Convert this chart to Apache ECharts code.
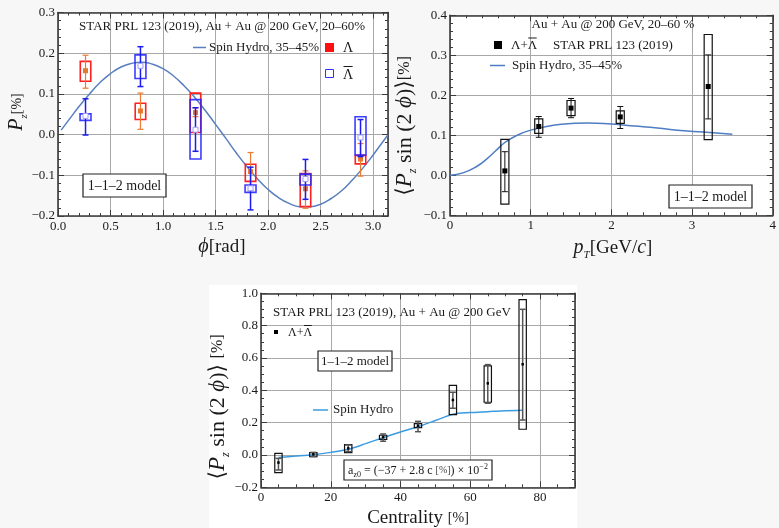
<!DOCTYPE html>
<html><head><meta charset="utf-8">
<script src="https://cdn.jsdelivr.net/npm/echarts@6/dist/echarts.min.js"></script>
<style>html,body{margin:0;padding:0;background:#f7f7f7}#c{width:779px;height:528px}</style>
</head><body><div id="c"></div>
<script>
// ---------- Panel 1: Pz vs phi ----------
const phiBins = [0.262, 0.785, 1.309, 1.833, 2.356, 2.880];
const lamPz = [0.157, 0.058, 0.054, -0.091, -0.133, -0.060];
const lamStatLo = [0.114, 0.013, 0.044, -0.138, -0.181, -0.102];
const lamStatHi = [0.195, 0.102, 0.066, -0.044, -0.089, -0.022];
const lamSysLo = [0.131, 0.037, 0.005, -0.115, -0.177, -0.072];
const lamSysHi = [0.180, 0.077, 0.102, -0.073, -0.096, -0.051];
const abarPz = [0.046, 0.169, 0.012, -0.132, -0.109, -0.007];
const abarStatLo = [-0.001, 0.118, -0.041, -0.185, -0.159, -0.054];
const abarStatHi = [0.088, 0.216, 0.066, -0.080, -0.061, 0.037];
const abarSysLo = [0.035, 0.138, -0.060, -0.142, -0.124, -0.050];
const abarSysHi = [0.051, 0.196, 0.086, -0.124, -0.097, 0.044];
const hydroPhi = [0.03, 0.1, 0.2, 0.3, 0.4, 0.5, 0.6, 0.7, 0.8, 0.9, 1.0, 1.1, 1.2, 1.3, 1.4, 1.5, 1.6, 1.7, 1.8, 1.9, 2.0, 2.1, 2.2, 2.3, 2.4, 2.5, 2.6, 2.7, 2.8, 2.9, 3.0, 3.1, 3.14];
const hydroPz = [0.011, 0.035, 0.069, 0.100, 0.128, 0.150, 0.166, 0.175, 0.178, 0.173, 0.162, 0.144, 0.120, 0.092, 0.060, 0.025, -0.010, -0.046, -0.079, -0.109, -0.135, -0.155, -0.169, -0.177, -0.177, -0.171, -0.157, -0.138, -0.112, -0.083, -0.050, -0.015, -0.001];

// ---------- Panel 2: vs pT ----------
const ptBins = [0.68, 1.10, 1.50, 2.11, 3.20];
const ptVal = [0.011, 0.122, 0.168, 0.146, 0.222];
const ptStatLo = [-0.041, 0.095, 0.144, 0.117, 0.141];
const ptStatHi = [0.059, 0.147, 0.192, 0.172, 0.301];
const ptSysLo = [-0.072, 0.105, 0.149, 0.130, 0.089];
const ptSysHi = [0.090, 0.141, 0.187, 0.161, 0.352];
const hydroPt = [0, 0.16, 0.33, 0.45, 0.57, 0.68, 0.82, 1.0, 1.3, 1.55, 1.71, 2.0, 2.29, 2.57, 2.86, 3.14, 3.5];
const hydroPtVal = [0, 0.006, 0.022, 0.040, 0.062, 0.082, 0.099, 0.113, 0.126, 0.130, 0.131, 0.128, 0.123, 0.118, 0.112, 0.108, 0.1025];

// ---------- Panel 3: vs centrality ----------
const centBins = [5, 15, 25, 35, 45, 55, 65, 75];
const centVal = [-0.047, 0.004, 0.041, 0.111, 0.181, 0.340, 0.443, 0.561];
const centStatLo = [-0.093, -0.010, 0.021, 0.085, 0.144, 0.289, 0.320, 0.216];
const centStatHi = [-0.021, 0.016, 0.062, 0.130, 0.208, 0.388, 0.559, 0.901];
const centSysLo = [-0.109, -0.010, 0.014, 0.097, 0.169, 0.249, 0.326, 0.159];
const centSysHi = [0.010, 0.014, 0.064, 0.122, 0.194, 0.431, 0.551, 0.961];
const hydroCent = [5, 10, 15, 20, 25, 30, 35, 40, 45, 50, 55, 60, 65, 70, 75];
const hydroCentVal = [-0.015, -0.007, 0.002, 0.016, 0.035, 0.070, 0.107, 0.142, 0.175, 0.213, 0.252, 0.262, 0.268, 0.274, 0.277];

// tick labels
const xTicks1 = ['0.0','0.5','1.0','1.5','2.0','2.5','3.0'];

const FONT = '"Liberation Serif", "DejaVu Serif", serif';
const FRAME = '#3c3c3c';
const mctx = document.createElement('canvas').getContext('2d');
function measure(t, size) { mctx.font = size + 'px ' + FONT; return mctx.measureText(t).width; }

function rows(x, v, sl, sh, bl, bh) { return x.map((xx, i) => [xx, v[i], sl[i], sh[i], bl[i], bh[i]]); }
function pairs(x, y) { return x.map((xx, i) => [xx, y[i]]); }
function fmtNum(d) { return v => (v < -1e-9 ? '\u2212' : '') + Math.abs(v).toFixed(d); }

function errRender(cfg) {
  return function (params, api) {
    const x = api.value(0), y = api.value(1);
    const a = api.coord([x - cfg.hw, api.value(5)]);
    const b = api.coord([x + cfg.hw, api.value(4)]);
    const c = api.coord([x, y]);
    const s1 = api.coord([x, api.value(2)]);
    const s2 = api.coord([x, api.value(3)]);
    const cap = cfg.cap, m = cfg.ms;
    const es = { stroke: cfg.err, lineWidth: cfg.errW };
    return { type: 'group', children: [
      { type: 'rect', shape: { x: a[0], y: a[1], width: b[0] - a[0], height: b[1] - a[1] }, style: { fill: 'none', stroke: cfg.box, lineWidth: cfg.boxW, opacity: cfg.boxOp || 1 } },
      { type: 'line', shape: { x1: s1[0], y1: s1[1], x2: s2[0], y2: s2[1] }, style: es },
      { type: 'line', shape: { x1: s1[0] - cap, y1: s1[1], x2: s1[0] + cap, y2: s1[1] }, style: es },
      { type: 'line', shape: { x1: s2[0] - cap, y1: s2[1], x2: s2[0] + cap, y2: s2[1] }, style: es },
      { type: 'rect', shape: { x: c[0] - m / 2, y: c[1] - m / 2, width: m, height: m }, style: cfg.filled ? { fill: cfg.mk } : { fill: '#fff', stroke: cfg.mk, lineWidth: 1 } }
    ] };
  };
}

function makeAxes(gi, o, xAxes, yAxes) {
  const line = { show: true, onZero: false, lineStyle: { color: FRAME, width: 1.6 } };
  const tick = { show: true, inside: true, length: 6, lineStyle: { color: FRAME, width: 1 } };
  const lab = { fontFamily: FONT, fontSize: 13, color: '#1a1a1a' };
  const split = { show: true, lineStyle: { color: '#a8a8a8', width: 1 } };
  const xb = { gridIndex: gi, type: 'value', min: o.xmin, max: o.xmax, interval: o.xint, axisLine: line, axisTick: tick,
    minorTick: { show: true, splitNumber: o.xminor, length: 3, lineStyle: { color: FRAME } } };
  const yb = { gridIndex: gi, type: 'value', min: o.ymin, max: o.ymax, interval: o.yint, axisLine: line, axisTick: tick,
    minorTick: { show: true, splitNumber: o.yminor, length: 3, lineStyle: { color: FRAME } } };
  xAxes.push(Object.assign({}, xb, { position: 'bottom', splitLine: split,
    axisLabel: Object.assign({ margin: 4, formatter: o.xfmt, showMaxLabel: o.xShowMax, showMinLabel: true }, lab) }));
  xAxes.push(Object.assign({}, xb, { position: 'top', splitLine: { show: false }, axisLabel: { show: false } }));
  yAxes.push(Object.assign({}, yb, { position: 'left', splitLine: split,
    axisLabel: Object.assign({ margin: 3, formatter: o.yfmt, showMaxLabel: true, showMinLabel: true }, lab) }));
  yAxes.push(Object.assign({}, yb, { position: 'right', splitLine: { show: false }, axisLabel: { show: false } }));
}

const xAxes = [], yAxes = [];
makeAxes(0, { xmin: 0, xmax: 3.1416, xint: 0.5, xminor: 5, ymin: -0.2, ymax: 0.3, yint: 0.1, yminor: 5,
  xfmt: v => { const i = Math.round(v / 0.5); return Math.abs(v - i * 0.5) < 1e-6 ? xTicks1[i] : ''; }, yfmt: fmtNum(1), xShowMax: false }, xAxes, yAxes);
makeAxes(1, { xmin: 0, xmax: 4, xint: 1, xminor: 5, ymin: -0.1, ymax: 0.4, yint: 0.1, yminor: 5,
  xfmt: v => String(Math.round(v)), yfmt: fmtNum(1), xShowMax: true }, xAxes, yAxes);
makeAxes(2, { xmin: 0, xmax: 90, xint: 20, xminor: 4, ymin: -0.2, ymax: 1.0, yint: 0.2, yminor: 4,
  xfmt: v => String(Math.round(v)), yfmt: fmtNum(1), xShowMax: false }, xAxes, yAxes);

const series = [
  { type: 'line', xAxisIndex: 0, yAxisIndex: 0, data: pairs(hydroPhi, hydroPz), smooth: true, showSymbol: false,
    lineStyle: { color: '#5a7fbe', width: 1.5 }, z: 3 },
  { type: 'custom', xAxisIndex: 0, yAxisIndex: 0, data: rows(phiBins, lamPz, lamStatLo, lamStatHi, lamSysLo, lamSysHi),
    encode: { x: 0, y: [1, 2, 3, 4, 5] }, z: 4,
    renderItem: errRender({ hw: 0.05, cap: 3, ms: 5, box: '#ff2020', boxW: 1.6, err: '#ec7a30', errW: 1.2, mk: '#e8772e', filled: true }) },
  { type: 'custom', xAxisIndex: 0, yAxisIndex: 0, data: rows(phiBins, abarPz, abarStatLo, abarStatHi, abarSysLo, abarSysHi),
    encode: { x: 0, y: [1, 2, 3, 4, 5] }, z: 5,
    renderItem: errRender({ hw: 0.052, cap: 3, ms: 5, box: '#2828ff', boxW: 1.6, boxOp: 0.9, err: '#1c1cf0', errW: 1.5, mk: '#9a9aff', filled: false }) },
  { type: 'line', xAxisIndex: 2, yAxisIndex: 2, data: pairs(hydroPt, hydroPtVal), smooth: true, showSymbol: false,
    lineStyle: { color: '#4f7dc4', width: 1.5 }, z: 3 },
  { type: 'custom', xAxisIndex: 2, yAxisIndex: 2, data: rows(ptBins, ptVal, ptStatLo, ptStatHi, ptSysLo, ptSysHi),
    encode: { x: 0, y: [1, 2, 3, 4, 5] }, z: 4,
    renderItem: errRender({ hw: 0.05, cap: 3, ms: 5, box: '#111', boxW: 1.2, err: '#111', errW: 1, mk: '#000', filled: true }) },
  { type: 'line', xAxisIndex: 4, yAxisIndex: 4, data: pairs(hydroCent, hydroCentVal), smooth: 0.3, showSymbol: false,
    lineStyle: { color: '#3a9be0', width: 1.5 }, z: 3 },
  { type: 'custom', xAxisIndex: 4, yAxisIndex: 4, data: rows(centBins, centVal, centStatLo, centStatHi, centSysLo, centSysHi),
    encode: { x: 0, y: [1, 2, 3, 4, 5] }, z: 4,
    renderItem: errRender({ hw: 1.05, cap: 3, ms: 2.5, box: '#111', boxW: 1.2, err: '#555', errW: 1.5, mk: '#000', filled: true }) }
];

function txt(x, y, text, size, align, extra) {
  return Object.assign({ type: 'text', x: x, y: y, z: 100,
    style: { text: text, fontFamily: FONT, fontSize: size, fill: '#1a1a1a', align: align || 'left', verticalAlign: 'middle' } }, extra || {});
}
// text with an overline on the Lambda that follows `prefix`
function barredText(x, y, prefix, rest, size) {
  const x1 = x + measure(prefix, size);
  const w = measure('\u039b', size);
  return [
    txt(x, y, prefix + '\u039b' + rest, size),
    { type: 'line', z: 100, shape: { x1: x1 + 0.5, y1: y - size * 0.5 - 1.5, x2: x1 + w - 0.5, y2: y - size * 0.5 - 1.5 }, style: { stroke: '#1a1a1a', lineWidth: 1 } }
  ];
}
function richTitle(x, y, text, rich, rot) {
  return { type: 'text', x: x, y: y, z: 100, rotation: rot || 0,
    style: { text: text, rich: rich, align: 'center', verticalAlign: 'middle' } };
}
function boxedText(x, y, w, h, text, size) {
  return [
    { type: 'rect', z: 99, shape: { x: x, y: y, width: w, height: h }, style: { fill: '#fff', stroke: '#222', lineWidth: 1.2 } },
    txt(x + w / 2, y + h / 2 + 0.5, text, size, 'center')
  ];
}
const R = (s, o) => Object.assign({ fontFamily: FONT, fontSize: s, fill: '#1a1a1a', lineHeight: 26, verticalAlign: 'middle' }, o || {});
const titleRich = {
  n: R(19), s: R(14), i: R(20, { fontStyle: 'italic' }),
  sub: R(11, { fontStyle: 'italic', verticalAlign: 'bottom', lineHeight: 24 })
};
const bigRich = {
  n: R(22), s: R(16), i: R(23, { fontStyle: 'italic' }),
  sub: R(12, { fontStyle: 'italic', verticalAlign: 'bottom', lineHeight: 27 })
};

const graphics = [
  { type: 'rect', z: -100, shape: { x: 209, y: 285, width: 368, height: 243 }, style: { fill: '#ffffff' } },
  // panel 1 texts
  txt(222, 27, 'STAR PRL 123 (2019), Au + Au @ 200 GeV, 20\u201360%', 13, 'center'),
  { type: 'line', z: 100, shape: { x1: 193, y1: 47.5, x2: 206, y2: 47.5 }, style: { stroke: '#5a7fbe', lineWidth: 1.5 } },
  txt(209, 48, 'Spin Hydro, 35\u201345%', 13),
  { type: 'rect', z: 100, shape: { x: 325, y: 43, width: 9, height: 9 }, style: { fill: '#ff1010' } },
  txt(343, 48, '\u039b', 14),
  { type: 'rect', z: 100, shape: { x: 325.5, y: 69.5, width: 8, height: 8 }, style: { fill: 'none', stroke: '#3030ff', lineWidth: 1 } },
  ...barredText(343, 75, '', '', 14),
  ...boxedText(83, 174, 83, 23, '1\u20131\u20132 model', 14),
  richTitle(17, 112, '{i|P}{sub|z}{s|[%]}', titleRich, Math.PI / 2),
  richTitle(222, 247, '{i|\u03d5}{n|[rad]}', titleRich),
  // panel 2 texts
  txt(613, 25, 'Au + Au @ 200 GeV, 20\u201360 %', 13, 'center'),
  { type: 'rect', z: 100, shape: { x: 494, y: 41, width: 8, height: 8 }, style: { fill: '#000' } },
  ...barredText(511, 46, '\u039b+', '', 13),
  txt(553, 46, 'STAR PRL 123 (2019)', 13),
  { type: 'line', z: 100, shape: { x1: 490, y1: 65.5, x2: 505, y2: 65.5 }, style: { stroke: '#4f7dc4', lineWidth: 1.5 } },
  txt(512, 66, 'Spin Hydro, 35\u201345%', 13),
  ...boxedText(669, 185, 83, 23, '1\u20131\u20132 model', 14),
  richTitle(405, 126, '{n|\u27e8}{i|P}{sub|z}{n| sin (2 }{i|\u03d5}{n|)\u27e9}{s|[%]}', bigRich, Math.PI / 2),
  richTitle(613, 248, '{i|p}{sub|T}{n|[GeV/}{i|c}{n|]}', titleRich),
  // panel 3 texts
  txt(273, 313, 'STAR PRL 123 (2019), Au + Au @ 200 GeV', 13),
  { type: 'rect', z: 100, shape: { x: 274, y: 330, width: 4, height: 4 }, style: { fill: '#000' } },
  ...barredText(288, 333, '\u039b+', '', 12),
  ...boxedText(318, 351, 74, 20, '1\u20131\u20132 model', 13),
  { type: 'line', z: 100, shape: { x1: 313, y1: 410, x2: 328, y2: 410 }, style: { stroke: '#3a9be0', lineWidth: 1.5 } },
  txt(333, 410, 'Spin Hydro', 13),
  { type: 'rect', z: 99, shape: { x: 344, y: 460, width: 148, height: 20 }, style: { fill: '#fff', stroke: '#222', lineWidth: 1.2 } },
  { type: 'text', x: 418, y: 470.5, z: 100, style: { text: '{n|a}{sb|z0}{n| = (\u221237 + 2.8 c }{p|[%]}{n|) \u00d7 10}{sp|\u22122}', align: 'center', verticalAlign: 'middle',
    rich: { n: R(12, { lineHeight: 16 }), p: R(10, { lineHeight: 16, fill: '#444' }), sb: R(8, { lineHeight: 16, verticalAlign: 'bottom' }), sp: R(8, { lineHeight: 16, verticalAlign: 'top' }) } } },
  richTitle(218, 407, '{n|\u27e8}{i|P}{sub|z}{n| sin (2 }{i|\u03d5}{n|)\u27e9 }{s|[%]}', bigRich, Math.PI / 2),
  richTitle(418, 518, '{n|Centrality }{s|[%]}', titleRich)
];

const option = {
  backgroundColor: '#f7f7f7',
  animation: false,
  grid: [
    { left: 58, top: 12.5, width: 330, height: 203.5, show: true, backgroundColor: '#fff', borderWidth: 0 },
    { left: 450, top: 15.3, width: 326.7, height: 200, show: true, backgroundColor: '#fff', borderWidth: 0 },
    { left: 261, top: 293.3, width: 314, height: 194, show: true, backgroundColor: '#fff', borderWidth: 0 }
  ],
  xAxis: xAxes,
  yAxis: yAxes,
  series: series,
  graphic: { elements: graphics }
};
const chart = echarts.init(document.getElementById('c'), null, { renderer: 'canvas' });
chart.setOption(option);
</script></body></html>
